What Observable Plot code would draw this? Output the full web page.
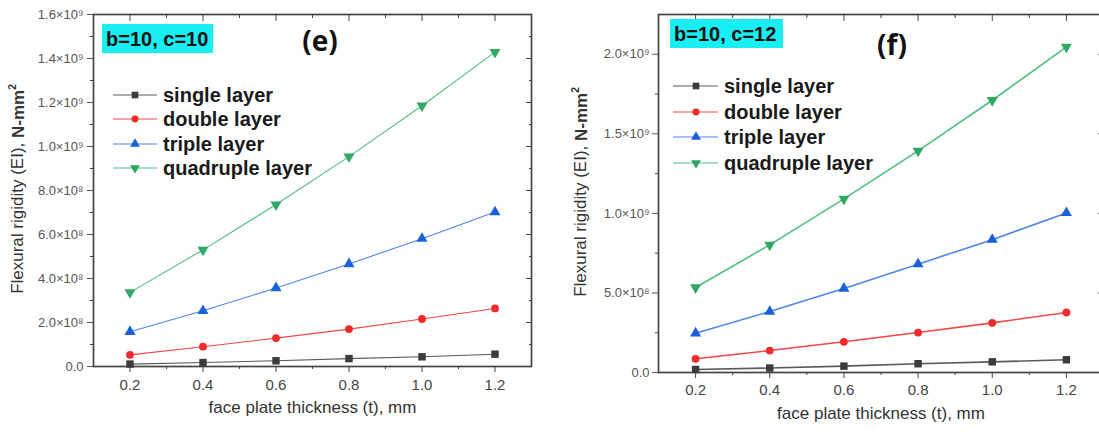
<!DOCTYPE html>
<html><head><meta charset="utf-8">
<script src="https://cdn.jsdelivr.net/npm/d3@7"></script>
<script src="https://cdn.jsdelivr.net/npm/@observablehq/plot@0.6"></script>
<style>
html,body{margin:0;padding:0;background:#fff;}
#wrap{position:relative;width:1099px;height:433px;overflow:hidden;font-family:"Liberation Sans",Arial,sans-serif;}
.panel{position:absolute;top:0;width:560px;height:433px;}
.panel svg{max-width:none !important;}
.ylab{position:absolute;white-space:nowrap;font-size:17px;color:#333;transform:translate(-50%,-50%) rotate(-90deg);}
.ylab sup{font-size:0.6em;position:relative;top:-0.1em;}
.tag{position:absolute;background:#19eef2;font-weight:bold;font-size:20px;color:#111;height:29px;line-height:30px;padding:0 4px;box-sizing:border-box;white-space:nowrap;}
.plabel{position:absolute;font-family:"Open Sans";font-weight:bold;font-size:28px;color:#111;transform:translate(-50%,-50%);line-height:1;}
.lrow{position:absolute;display:flex;align-items:center;height:22px;}
.lrow span{font-weight:bold;font-size:20px;color:#1a1a1a;white-space:nowrap;}
</style></head>
<body><div id="wrap"></div>
<script>
// ---- data ----
const tVals = [0.2, 0.4, 0.6, 0.8, 1.0, 1.2];
const seriesNames = ["single layer", "double layer", "triple layer", "quadruple layer"];
// panel (e): b=10, c=10  (N-mm²)
const eSingle = [0.011e9, 0.018e9, 0.026e9, 0.036e9, 0.044e9, 0.056e9];
const eDouble = [0.053e9, 0.090e9, 0.129e9, 0.170e9, 0.216e9, 0.264e9];
const eTriple = [0.158e9, 0.253e9, 0.357e9, 0.466e9, 0.581e9, 0.702e9];
const eQuad   = [0.337e9, 0.530e9, 0.736e9, 0.954e9, 1.185e9, 1.429e9];
// panel (f): b=10, c=12
const fSingle = [0.019e9, 0.028e9, 0.040e9, 0.055e9, 0.067e9, 0.080e9];
const fDouble = [0.086e9, 0.138e9, 0.193e9, 0.251e9, 0.312e9, 0.377e9];
const fTriple = [0.247e9, 0.383e9, 0.528e9, 0.681e9, 0.835e9, 1.003e9];
const fQuad   = [0.534e9, 0.802e9, 1.091e9, 1.393e9, 1.711e9, 2.046e9];
// ticks
const xTicks = [0.2, 0.4, 0.6, 0.8, 1.0, 1.2];
const xMinor = [0.3, 0.5, 0.7, 0.9, 1.1];
const eYTicks = [0, 2e8, 4e8, 6e8, 8e8, 1.0e9, 1.2e9, 1.4e9, 1.6e9];
const eYMinor = [1e8, 3e8, 5e8, 7e8, 9e8, 1.1e9, 1.3e9, 1.5e9];
const fYTicks = [0, 5e8, 1.0e9, 1.5e9, 2.0e9];
const fYMinor = [2.5e8, 7.5e8, 1.25e9, 1.75e9];
const xLabel = "face plate thickness (t), mm";

// ---- styles ----
const markerColors = ["#3b3b3b", "#ee2a2a", "#1a60d8", "#2ea862"];
const lineColors = ["#5a5a5a", "#f24848", "#4a86ee", "#4fbf80"];
const symbols = ["square", "circle", "triangle", "triangle"];
const symR = [4.2, 3.9, 4.1, 4.1];
const rotations = [0, 0, 0, 180];

const sup = {"0":"⁰","1":"¹","2":"²","3":"³","4":"⁴","5":"⁵","6":"⁶","7":"⁷","8":"⁸","9":"⁹"};
function sciFmt(v) {
  if (v === 0) return "0.0";
  const e = Math.floor(Math.log10(v) + 1e-9);
  const m = v / Math.pow(10, e);
  return m.toFixed(1) + "×10" + String(e).split("").map(c => sup[c]).join("");
}

function makePanel(cfg) {
  const data = [];
  cfg.series.forEach((vals, i) => vals.forEach((v, j) => data.push({t: tVals[j], v, s: seriesNames[i]})));
  const marks = [
    Plot.axisX({ticks: xMinor, tickSize: 3, fill: "none", stroke: "#444", label: null}),
    Plot.axisX({ticks: xTicks, tickSize: 6, tickPadding: cfg.xPad, tickFormat: d3.format(".1f"), fontSize: 15, color: "#454545", label: null}),
    Plot.axisX({anchor: "top", ticks: xTicks, tickSize: -6, fill: "none", stroke: "#444", label: null}),
    Plot.axisX({anchor: "top", ticks: xMinor, tickSize: -3, fill: "none", stroke: "#444", label: null}),
    Plot.axisY({ticks: cfg.yMinor, tickSize: 3, fill: "none", stroke: "#444", label: null}),
    Plot.axisY({ticks: cfg.yTicks, tickSize: 6, tickPadding: cfg.yPad, tickFormat: sciFmt, fontSize: 13, color: "#555", label: null}),
    Plot.axisY({anchor: "right", ticks: cfg.yTicks, tickSize: -6, fill: "none", stroke: "#444", label: null}),
    Plot.axisY({anchor: "right", ticks: cfg.yMinor, tickSize: -3, fill: "none", stroke: "#444", label: null}),
    Plot.frame({stroke: "#444", strokeWidth: 1.7})
  ];
  seriesNames.forEach((name, i) => {
    marks.push(Plot.line(data, {filter: d => d.s === name, x: "t", y: "v", stroke: lineColors[i], strokeWidth: cfg.lw}));
  });
  seriesNames.forEach((name, i) => {
    marks.push(Plot.dot(data, {filter: d => d.s === name, x: "t", y: "v", symbol: symbols[i], r: symR[i], rotate: rotations[i], fill: markerColors[i], stroke: "none"}));
  });
  marks.push(Plot.text([xLabel], {text: d => d, frameAnchor: "bottom", dy: cfg.xLabDy, fontSize: 17, fill: "#333"}));
  return Plot.plot({
    width: cfg.width, height: 433,
    marginLeft: cfg.ml, marginRight: cfg.mr, marginTop: 14, marginBottom: cfg.mb,
    x: {domain: [0.1, 1.3]},
    y: {domain: cfg.yDomain},
    style: {fontFamily: "'Liberation Sans', Arial, sans-serif", background: "white", overflow: "visible", maxWidth: "none"},
    marks
  });
}

const wrap = document.getElementById("wrap");

function addPanel(left, cfg, extra) {
  const d = document.createElement("div");
  d.className = "panel";
  d.style.left = left + "px";
  d.appendChild(makePanel(cfg));
  wrap.appendChild(d);
  // y label
  const yl = document.createElement("div");
  yl.className = "ylab";
  yl.style.left = extra.ylx + "px"; yl.style.top = extra.yly + "px";
  yl.innerHTML = "Flexural rigidity (EI), <b>N-mm<sup>2</sup></b>";
  wrap.appendChild(yl);
  // tag box
  const tg = document.createElement("div");
  tg.className = "tag";
  tg.style.left = extra.tagX + "px"; tg.style.top = extra.tagY + "px"; tg.style.width = extra.tagW + "px";
  tg.textContent = extra.tag;
  wrap.appendChild(tg);
  // panel letter
  const pl = document.createElement("div");
  pl.className = "plabel";
  pl.style.left = extra.plX + "px"; pl.style.top = extra.plY + "px";
  pl.textContent = extra.pl;
  wrap.appendChild(pl);
  // legend
  seriesNames.forEach((name, i) => {
    const row = document.createElement("div");
    row.className = "lrow";
    row.style.left = extra.legX + "px";
    row.style.top = (extra.legY[i] - 11) + "px";
    const w = extra.legTextX - extra.legX;
    const svg = d3.create("svg").attr("width", w).attr("height", 22);
    svg.append("line").attr("x1", 0).attr("x2", extra.legLineW).attr("y1", 11).attr("y2", 11)
      .attr("stroke", lineColors[i]).attr("stroke-width", 1.2);
    const symType = {square: d3.symbolSquare, circle: d3.symbolCircle, triangle: d3.symbolTriangle}[symbols[i]];
    svg.append("path")
      .attr("d", d3.symbol(symType, Math.PI * symR[i] * symR[i] * 0.8)())
      .attr("transform", `translate(${extra.legMark},11) rotate(${rotations[i]})`)
      .attr("fill", markerColors[i]);
    row.appendChild(svg.node());
    const sp = document.createElement("span");
    sp.textContent = name;
    row.appendChild(sp);
    wrap.appendChild(row);
  });
}

addPanel(0, {
  width: 560, ml: 93, mr: 29, mb: 67, yDomain: [0, 1.6e9],
  yTicks: eYTicks, yMinor: eYMinor, series: [eSingle, eDouble, eTriple, eQuad],
  xPad: 7, yPad: 4, lw: 1.1, xLabDy: 46
}, {
  ylx: 18, yly: 189, tag: "b=10, c=10", tagX: 102, tagY: 24, tagW: 111,
  pl: "(e)", plX: 320, plY: 40,
  legX: 113, legTextX: 163, legLineW: 44, legMark: 22, legY: [95, 119, 144, 168]
});

addPanel(560, {
  width: 560, ml: 98, mr: 17, mb: 61, yDomain: [0, 2.25e9],
  yTicks: fYTicks, yMinor: fYMinor, series: [fSingle, fDouble, fTriple, fQuad],
  xPad: 6, yPad: 3, lw: 1.6, xLabDy: 46
}, {
  ylx: 581, yly: 192, tag: "b=10, c=12", tagX: 670, tagY: 19, tagW: 113,
  pl: "(f)", plX: 892, plY: 44,
  legX: 673, legTextX: 724, legLineW: 45, legMark: 23, legY: [86, 112, 137, 163]
});
</script>
</body></html>
